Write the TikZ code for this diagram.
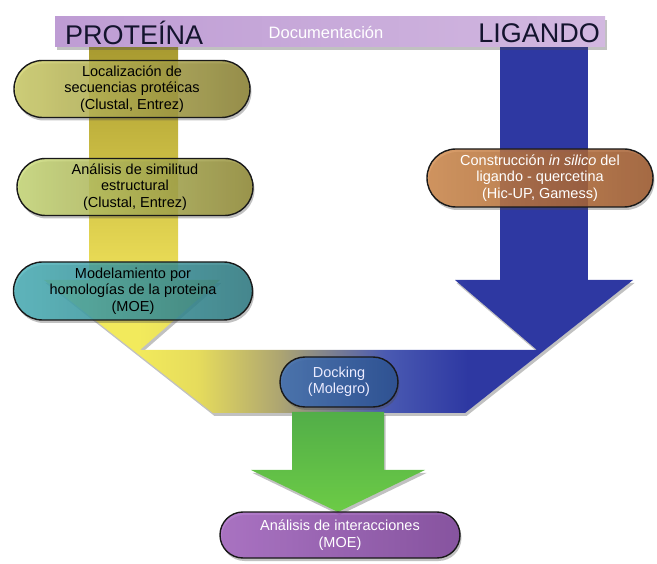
\documentclass[tikz,border=0pt]{standalone}
\usepackage{fontspec}
\setmainfont{Liberation Sans}
\usetikzlibrary{shapes.misc,shadows}
\definecolor{fy}{HTML}{F2EA5C}
\definecolor{fy2}{HTML}{E6DC5C}
\definecolor{fk}{HTML}{ADA571}
\definecolor{fb1}{HTML}{4A5AB2}
\definecolor{fb2}{HTML}{2E38A2}
\definecolor{colytop}{HTML}{A89A30}
\definecolor{colybot}{HTML}{EEE058}
\definecolor{barl}{HTML}{BE9CD4}
\definecolor{barr}{HTML}{D2B8E0}
\definecolor{titlec}{HTML}{14142E}
\definecolor{greentop}{HTML}{52AE48}
\definecolor{greenbot}{HTML}{6CCB46}
\definecolor{locl}{HTML}{D0D068}
\definecolor{locr}{HTML}{8C8230}
\definecolor{anal}{HTML}{CADC78}
\definecolor{anar}{HTML}{928A32}
\definecolor{modl}{HTML}{48B2BA}
\definecolor{modr}{HTML}{2A7A82}
\definecolor{conl}{HTML}{D28A4A}
\definecolor{conr}{HTML}{9E5628}
\definecolor{dockl}{HTML}{3E70BC}
\definecolor{dockr}{HTML}{2A5292}
\definecolor{intl}{HTML}{A462C2}
\definecolor{intr}{HTML}{7A3C98}
\pgfdeclarehorizontalshading{funnel}{100bp}{color(0bp)=(fy); color(33bp)=(fy); color(38bp)=(fy2); color(45bp)=(fk); color(54bp)=(fb1); color(61bp)=(fb2); color(100bp)=(fb2)}
\tikzset{
  shad/.style={drop shadow={shadow xshift=1.5pt,shadow yshift=-3pt,opacity=0.35,fill=black!70}},
  pill/.style={rounded rectangle, draw=black!90, line width=1.4pt, align=center,
    font=\fontsize{14.5}{16.5}\selectfont, fill opacity=0.82, text opacity=1,
    inner sep=2pt, shad},
  title/.style={font=\fontsize{27}{30}\selectfont, text=titlec, inner sep=0pt},
}
\begin{document}
\begin{tikzpicture}[x=1pt,y=-1pt]
\useasboundingbox (0,0) rectangle (657,564);
% funnel
\path[shading=funnel, shad] (44,280) -- (220,280) -- (140,350) -- (537,350) -- (455,280) -- (633,280) -- (465,413) -- (213,413) -- cycle;
% columns
\path[top color=colytop, bottom color=colybot] (89,46) rectangle (178,281);
\path[fill=fb2] (500,46) rectangle (588,281);
% green arrow
\path[top color=greentop, bottom color=greenbot, shad] (292,412) -- (384,412) -- (384,470) -- (425,470) -- (338,512) -- (251,470) -- (292,470) -- cycle;
% title bar
\node[shad, left color=barl, right color=barr, minimum width=550pt, minimum height=30pt, inner sep=0pt] (bar) at (330,32) {};
\node[title, anchor=west] (prot) at (65,33) {PROTEÍNA};
\node[title, anchor=east] (lig) at (600,33) {LIGANDO};
\node[font=\fontsize{16.5}{18}\selectfont, text=white, inner sep=0pt] (doc) at (326,33) {Documentación};
% pills
\node[pill, left color=locl, right color=locr, minimum width=240pt, minimum height=57pt] (loc) at (132,89)
  {Localización de\\secuencias protéicas\\(Clustal, Entrez)};
\node[pill, left color=anal, right color=anar, minimum width=240pt, minimum height=57pt] (ana) at (135,187)
  {Análisis de similitud\\estructural\\(Clustal, Entrez)};
\node[pill, left color=modl, right color=modr, minimum width=243pt, minimum height=58pt] (mod) at (133,291)
  {Modelamiento por\\homologías de la proteina\\(MOE)};
\node[pill, left color=conl, right color=conr, text=white, minimum width=230pt, minimum height=58pt] (con) at (540,178)
  {Construcción \textit{in silico} del\\ligando - quercetina\\(Hic-UP, Gamess)};
\node[pill, left color=dockl, right color=dockr, text=white!92!blue, minimum width=122pt, minimum height=50pt] (dock) at (339,382)
  {Docking\\(Molegro)};
\node[pill, left color=intl, right color=intr, text=white, minimum width=244pt, minimum height=46pt] (int) at (340,535)
  {Análisis de interacciones\\(MOE)};
\end{tikzpicture}
\end{document}
